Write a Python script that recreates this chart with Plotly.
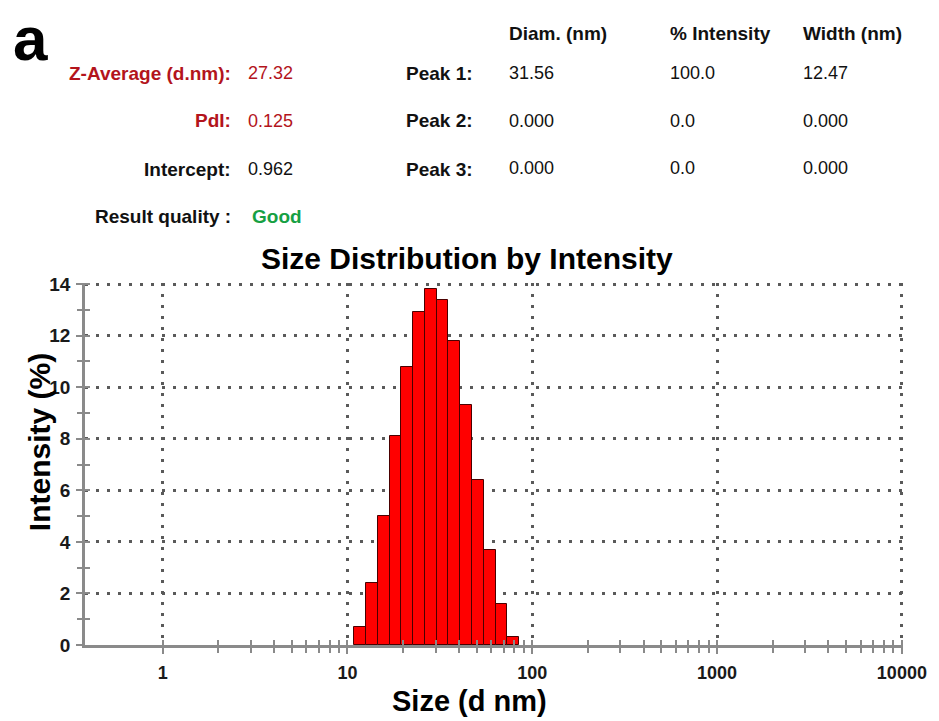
import math
import plotly.graph_objects as go

# ---------------- data ----------------
sizes_nm = [11.7, 13.54, 15.69, 18.17, 21.04, 24.36, 28.21, 32.67, 37.84, 43.82, 50.75, 58.77, 68.06, 78.82]
intensity_pct = [0.7, 2.4, 5.0, 8.1, 10.8, 12.9, 13.8, 13.4, 11.8, 9.3, 6.4, 3.7, 1.6, 0.3]

x_tick_vals = [1, 10, 100, 1000, 10000]
x_tick_text = ["1", "10", "100", "1000", "10000"]
y_tick_vals = [0, 2, 4, 6, 8, 10, 12, 14]

summary_labels = ["Z-Average (d.nm):", "PdI:", "Intercept:"]
summary_values = ["27.32", "0.125", "0.962"]
summary_colors = ["#b3141c", "#b3141c", "#111111"]
quality_label = "Result quality :"
quality_value = "Good"

peak_labels = ["Peak 1:", "Peak 2:", "Peak 3:"]
peak_headers = ["Diam. (nm)", "% Intensity", "Width (nm)"]
peak_diam = ["31.56", "0.000", "0.000"]
peak_int = ["100.0", "0.0", "0.0"]
peak_width = ["12.47", "0.000", "0.000"]

# ---------------- geometry ----------------
FIG_W, FIG_H = 939, 721
L, R, T, B = 85, 906, 283, 645
PW, PH = R - L, B - T

def P(px, py):
    return (px - L) / PW, (B - py) / PH

# bar edges (log-spaced bins)
n = len(sizes_nm)
ratio = (sizes_nm[-1] / sizes_nm[0]) ** (1.0 / (n - 1))
lo = [s / math.sqrt(ratio) for s in sizes_nm]
hi = [s * math.sqrt(ratio) for s in sizes_nm]
bar_x = [(a + b) / 2 for a, b in zip(lo, hi)]
bar_w = [b - a for a, b in zip(lo, hi)]

minor_x = [m * 10 ** k for k in range(0, 4) for m in range(2, 10)]
all_x_ticks = sorted(x_tick_vals + minor_x)
minor_y = [1, 3, 5, 7, 9, 11, 13]

xr = [math.log10(0.38), 4.006]
yr = [0, 14.04]

FONT = "Liberation Sans, Arial, sans-serif"
AX = "#8a8a8a"
GRID = "#5a5a5a"

fig = go.Figure()
fig.add_trace(go.Bar(
    x=bar_x, y=intensity_pct, width=bar_w,
    marker=dict(color="#ff0000", line=dict(color="#4a0000", width=1)),
    showlegend=False, hoverinfo="skip",
))
# invisible trace for overlay axes (inside half of crossing ticks)
fig.add_trace(go.Scatter(x=[1], y=[0], xaxis="x2", yaxis="y2", mode="markers",
                         marker=dict(opacity=0), showlegend=False, hoverinfo="skip"))

fig.update_layout(
    width=FIG_W, height=FIG_H,
    margin=dict(l=L, r=FIG_W - R, t=T, b=FIG_H - B),
    paper_bgcolor="white", plot_bgcolor="white",
    bargap=0,
    font=dict(family=FONT, color="#111111"),
    xaxis=dict(
        type="log", range=xr,
        tickmode="array", tickvals=x_tick_vals, ticktext=x_tick_text,
        ticks="outside", ticklen=6, tickwidth=2, tickcolor=AX,
        minor=dict(tickmode="array", tickvals=minor_x, ticks="outside", ticklen=5,
                   tickwidth=1.5, tickcolor=AX, showgrid=False),
        showline=True, linecolor=AX, linewidth=2.5,
        showgrid=True, gridcolor=GRID, gridwidth=2.5, griddash="2.5px,8.5px",
        zeroline=False,
        tickfont=dict(size=18, family=FONT, color="#1a1a1a", weight="bold"),
        ticklabelstandoff=4,
    ),
    yaxis=dict(
        range=yr,
        tickmode="array", tickvals=y_tick_vals,
        ticks="outside", ticklen=6, tickwidth=2, tickcolor=AX,
        minor=dict(tickmode="array", tickvals=minor_y, ticks="outside", ticklen=5,
                   tickwidth=1.5, tickcolor=AX, showgrid=False),
        showline=True, linecolor=AX, linewidth=2.5,
        showgrid=True, gridcolor=GRID, gridwidth=2.5, griddash="2.5px,8.5px",
        zeroline=False,
        tickfont=dict(size=19, family=FONT, color="#1a1a1a", weight="bold"),
        ticklabelstandoff=2,
    ),
    xaxis2=dict(
        type="log", range=xr, overlaying="x", anchor="y2", side="bottom",
        tickmode="array", tickvals=all_x_ticks, ticks="inside", ticklen=5,
        tickwidth=1.5, tickcolor=AX, showticklabels=False, showgrid=False,
        showline=False, zeroline=False,
    ),
    yaxis2=dict(
        range=yr, overlaying="y", anchor="x2", side="left",
        tickmode="array", tickvals=list(range(0, 15)), ticks="inside", ticklen=5,
        tickwidth=1.5, tickcolor=AX, showticklabels=False, showgrid=False,
        showline=False, zeroline=False,
    ),
)

ann = []

def text(px, py, s, size=18, color="#111111", bold=True, xanchor="left", yanchor="middle",
         angle=0, family=FONT):
    x, y = P(px, py)
    ann.append(dict(
        x=x, y=y, xref="paper", yref="paper", text=s, showarrow=False,
        xanchor=xanchor, yanchor=yanchor, textangle=angle,
        font=dict(size=size, color=color, family=family, weight="bold" if bold else "normal"),
    ))

# panel letter
text(11, 38, "a", size=62, color="#000000", xanchor="left")

HS = 19  # header font size
VS = 18
rows_y = [73, 121, 169]
for lab, val, col, yy in zip(summary_labels, summary_values, summary_colors, rows_y):
    text(234, yy, lab, size=HS, color=col, xanchor="right")
    text(247, yy, val, size=VS, color=col, bold=False)
text(234, 216, quality_label, size=HS, color="#111111", xanchor="right")
text(251, 216, quality_value, size=HS, color="#16a043")

for lab, yy in zip(peak_labels, rows_y):
    text(405, yy, lab, size=HS)

col_x = [509, 670, 804]
for hx, h in zip(col_x, peak_headers):
    text(hx, 33, h, size=HS)
for cx, col in zip(col_x, [peak_diam, peak_int, peak_width]):
    for v, yy in zip(col, [73, 121, 168]):
        text(cx, yy, v, size=VS, bold=False)

# chart titles
text(468, 258, "Size Distribution by Intensity", size=30, color="#000000", xanchor="center")
text(471, 701, "Size (d nm)", size=29, color="#000000", xanchor="center")
text(39, 442, "Intensity (%)", size=30, color="#000000", xanchor="center", angle=-90)

fig.update_layout(annotations=ann)
fig.write_html("out.html")
